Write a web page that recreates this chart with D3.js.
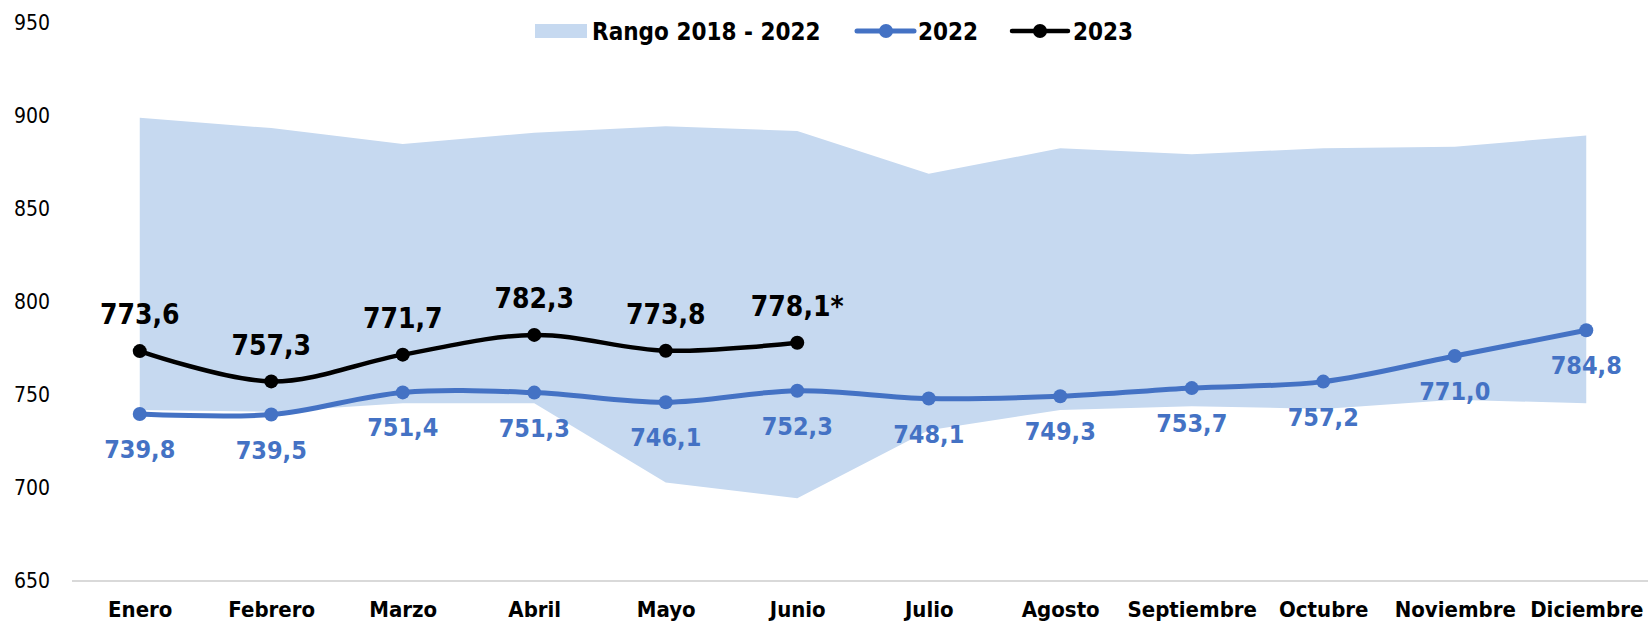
<!DOCTYPE html>
<html>
<head>
<meta charset="utf-8">
<script src="https://cdn.jsdelivr.net/npm/d3@7"></script>
<style>
  body { margin: 0; background: #fff; }
  svg text { font-family: "DejaVu Sans Condensed", "DejaVu Sans", sans-serif; font-stretch: condensed; }
</style>
</head>
<body>
<div id="chart"></div>
<script>
var w = 1648;
var h = 623;

// data
var months = ["Enero","Febrero","Marzo","Abril","Mayo","Junio","Julio","Agosto","Septiembre","Octubre","Noviembre","Diciembre"];
var rangeMax = [899, 893.5, 885, 891, 894.5, 892, 869, 882.6, 879.5, 882.6, 883.5, 889.5];
var rangeMin = [742, 741, 745.5, 745.5, 703, 694.5, 731, 742, 744, 742.5, 747.5, 745.5];
var v2022 = [739.8, 739.5, 751.4, 751.3, 746.1, 752.3, 748.1, 749.3, 753.7, 757.2, 771.0, 784.8];
var v2023 = [773.6, 757.3, 771.7, 782.3, 773.8, 778.1];
var labels2023 = ["773,6","757,3","771,7","782,3","773,8","778,1*"];
var yTicks = [650, 700, 750, 800, 850, 900, 950];

var blue = "#4472C4";
var areaFill = "#C6D9F0";

var svg = d3.select("#chart")
  .append("svg")
  .attr("width", w)
  .attr("height", h);

var x = d3.scalePoint().domain(months).range([74, 1652]).padding(0.5);
var y = d3.scaleLinear().domain([650, 950]).range([581, 23]);

var fmt = function(v) { return d3.format(".1f")(v).replace(".", ","); };

// range area
var rangeData = months.map(function(m, i) { return {m: m, lo: rangeMin[i], hi: rangeMax[i]}; });
svg.append("path")
  .datum(rangeData)
  .attr("fill", areaFill)
  .attr("d", d3.area()
    .x(function(d) { return x(d.m); })
    .y0(function(d) { return y(d.lo); })
    .y1(function(d) { return y(d.hi); }));

// baseline
svg.append("line")
  .attr("x1", 72).attr("x2", 1648)
  .attr("y1", y(650)).attr("y2", y(650))
  .style("stroke", "#D9D9D9")
  .style("stroke-width", 2);

// y axis
var yAxis = svg.append("g")
  .attr("transform", "translate(52,0)")
  .call(d3.axisLeft(y).tickValues(yTicks).tickSize(0).tickPadding(2).tickFormat(d3.format("d")));
yAxis.select(".domain").remove();
yAxis.selectAll("text")
  .style("font-size", "21px")
  .style("fill", "#000");

// x axis
var xAxis = svg.append("g")
  .attr("transform", "translate(0," + y(650) + ")")
  .call(d3.axisBottom(x).tickSize(0).tickPadding(20));
xAxis.select(".domain").remove();
xAxis.selectAll("text")
  .style("font-size", "22px")
  .style("font-weight", "bold")
  .style("fill", "#000");

var smooth = d3.curveCatmullRom.alpha(0);

function drawSeries(values, color, width) {
  var pts = values.map(function(v, i) { return {m: months[i], v: v}; });
  svg.append("path")
    .datum(pts)
    .attr("fill", "none")
    .attr("stroke", color)
    .attr("stroke-width", width)
    .attr("stroke-linecap", "round")
    .attr("d", d3.line()
      .x(function(d) { return x(d.m); })
      .y(function(d) { return y(d.v); })
      .curve(smooth));
  svg.selectAll(null)
    .data(pts)
    .enter()
    .append("circle")
    .attr("cx", function(d) { return x(d.m); })
    .attr("cy", function(d) { return y(d.v); })
    .attr("r", 7)
    .attr("fill", color);
  return pts;
}

var p22 = drawSeries(v2022, blue, 5);
var p23 = drawSeries(v2023, "#000", 4.5);

// labels 2022 (below)
svg.selectAll(null)
  .data(p22)
  .enter()
  .append("text")
  .attr("x", function(d) { return x(d.m); })
  .attr("y", function(d) { return y(d.v) + 35; })
  .attr("dy", "0.36em")
  .attr("text-anchor", "middle")
  .style("font-size", "25px")
  .style("font-weight", "bold")
  .style("fill", blue)
  .text(function(d) { return fmt(d.v); });

// labels 2023 (above)
svg.selectAll(null)
  .data(p23)
  .enter()
  .append("text")
  .attr("x", function(d) { return x(d.m); })
  .attr("y", function(d) { return y(d.v) - 37; })
  .attr("dy", "0.36em")
  .attr("text-anchor", "middle")
  .style("font-size", "28px")
  .style("font-weight", "bold")
  .style("fill", "#000")
  .text(function(d, i) { return labels2023[i]; });

// legend
var lg = svg.append("g").style("font-size", "24px").style("font-weight", "bold");
lg.append("rect").attr("x", 535).attr("y", 24).attr("width", 52).attr("height", 14).attr("fill", areaFill);
lg.append("text").attr("x", 592).attr("y", 31).attr("dy", "0.36em").text("Rango 2018 - 2022");
lg.append("line").attr("x1", 857).attr("x2", 914).attr("y1", 31).attr("y2", 31)
  .attr("stroke", blue).attr("stroke-width", 5).attr("stroke-linecap", "round");
lg.append("circle").attr("cx", 886).attr("cy", 31).attr("r", 7).attr("fill", blue);
lg.append("text").attr("x", 918).attr("y", 31).attr("dy", "0.36em").text("2022");
lg.append("line").attr("x1", 1012).attr("x2", 1068).attr("y1", 31).attr("y2", 31)
  .attr("stroke", "#000").attr("stroke-width", 4.5).attr("stroke-linecap", "round");
lg.append("circle").attr("cx", 1040).attr("cy", 31).attr("r", 7).attr("fill", "#000");
lg.append("text").attr("x", 1073).attr("y", 31).attr("dy", "0.36em").text("2023");
</script>
</body>
</html>
